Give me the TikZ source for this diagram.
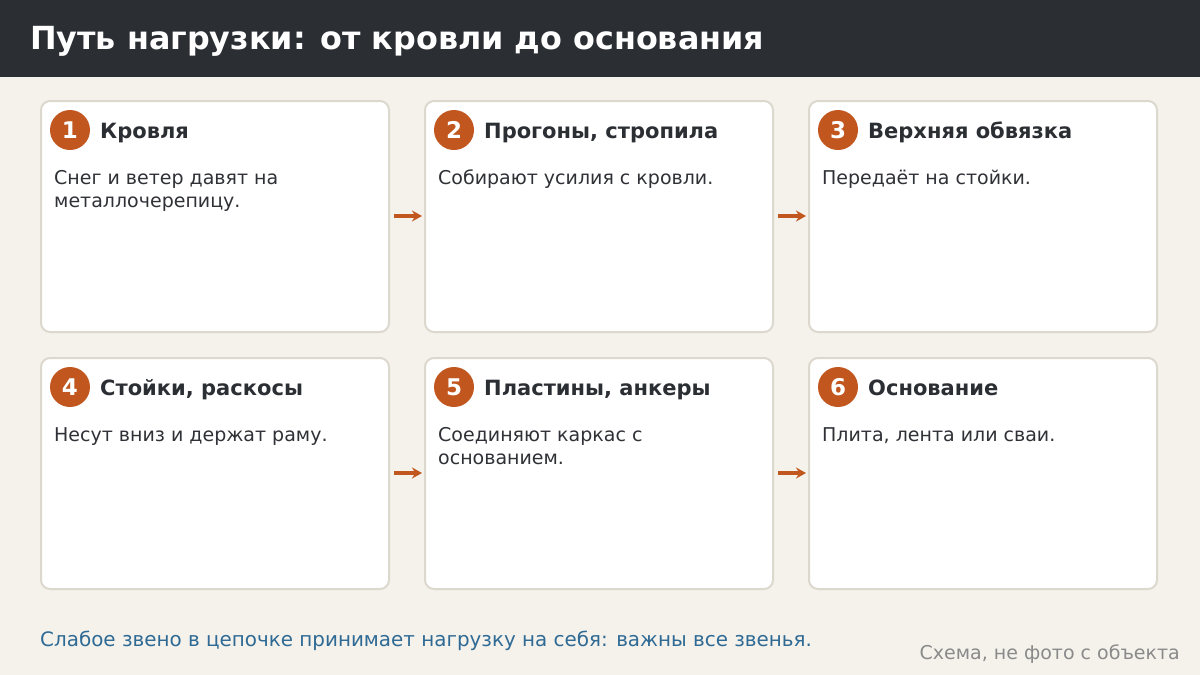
\documentclass[tikz,border=0pt]{standalone}
\usepackage{fontspec}
\setmainfont{DejaVu Sans}
\usetikzlibrary{arrows.meta}
\definecolor{bg}{HTML}{F5F2EC}
\definecolor{hdr}{HTML}{2B2E33}
\definecolor{cardline}{HTML}{DDD8CE}
\definecolor{accent}{HTML}{C2561F}
\definecolor{bodytxt}{HTML}{2F3136}
\definecolor{note}{HTML}{2E6A94}
\definecolor{gray8}{HTML}{8A8A8A}
\newcommand{\twolines}[2]{\vtop{\baselineskip=23pt\hbox{#1}\hbox{#2}}}
\tikzset{
  card/.style={draw=cardline, line width=2pt, fill=white, rounded corners=9pt},
  badge/.style={circle, fill=accent, minimum size=40pt, inner sep=0pt, text=white, font=\bfseries\fontsize{23}{23}\selectfont},
  cardtitle/.style={anchor=base west, inner sep=0pt, text=hdr, font=\bfseries\fontsize{21}{21}\selectfont},
  cardbody/.style={anchor=base west, inner sep=0pt, text=bodytxt, font=\fontsize{19}{23}\selectfont},
  flow/.style={draw=accent, line width=3.5pt, -{Stealth[length=10pt,width=11pt]}},
}
\begin{document}
\begin{tikzpicture}[x=1pt,y=-1pt]
\fill[bg] (0,0) rectangle (1200,675);
\useasboundingbox (0,0) rectangle (1200,675);
\fill[hdr] (0,0) rectangle (1200,77);
\node[anchor=base west, inner sep=0pt, text=white, font=\bfseries\fontsize{31.8}{32}\selectfont] (title) at (30,49) {Путь нагрузки: от кровли до основания};

% cards
\foreach \i/\x/\y in {1/41/101, 2/425/101, 3/809/101, 4/41/358, 5/425/358, 6/809/358}{
  \draw[card] (\x,\y) rectangle ++(348,231);
  \coordinate (c\i w) at (\x,\y+115);
  \coordinate (c\i e) at (\x+348,\y+115);
}
\foreach \i/\x/\y/\t in {1/41/101/Кровля, 2/425/101/{Прогоны, стропила}, 3/809/101/Верхняя обвязка, 4/41/358/{Стойки, раскосы}, 5/425/358/{Пластины, анкеры}, 6/809/358/Основание}{
  \node[badge] (b\i) at (\x+29,\y+29) {\i};
  \node[cardtitle] (t\i) at (\x+59,\y+37) {\t};
}
\node[cardbody] (d1) at (54,184) {\twolines{Снег и ветер давят на}{металлочерепицу.}};
\node[cardbody] (d2) at (438,184) {Собирают усилия с кровли.};
\node[cardbody] (d3) at (822,184) {Передаёт на стойки.};
\node[cardbody] (d4) at (54,441) {Несут вниз и держат раму.};
\node[cardbody] (d5) at (438,441) {\twolines{Соединяют каркас с}{основанием.}};
\node[cardbody] (d6) at (822,441) {Плита, лента или сваи.};

% arrows
\draw[flow] ([xshift=5pt]c1e) -- ([xshift=-3pt]c2w);
\draw[flow] ([xshift=5pt]c2e) -- ([xshift=-3pt]c3w);
\draw[flow] ([xshift=5pt]c4e) -- ([xshift=-3pt]c5w);
\draw[flow] ([xshift=5pt]c5e) -- ([xshift=-3pt]c6w);

\node[anchor=base west, inner sep=0pt, text=note, font=\fontsize{19.9}{20}\selectfont] (foot) at (40,646) {Слабое звено в цепочке принимает нагрузку на себя: важны все звенья.};
\node[anchor=base east, inner sep=0pt, text=gray8, font=\fontsize{19}{19}\selectfont] (credit) at (1180,659) {Схема, не фото с объекта};
\end{tikzpicture}
\end{document}
